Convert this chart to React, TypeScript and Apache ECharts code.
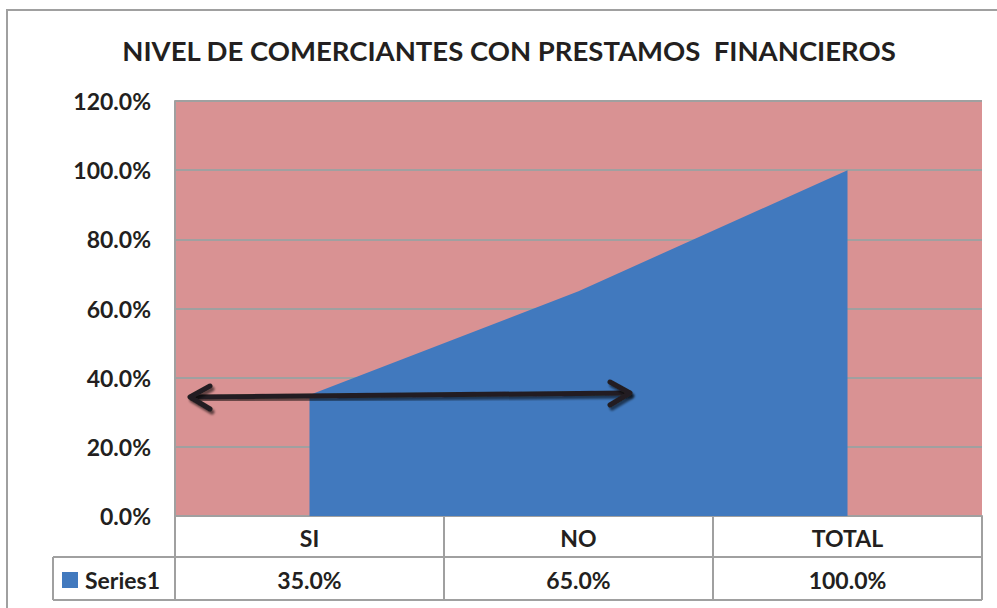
import React, { useEffect, useRef } from "react";
import * as echarts from "echarts";

const titleText = "NIVEL DE COMERCIANTES CON PRESTAMOS  FINANCIEROS";
const categories = ["SI", "NO", "TOTAL"];
const seriesName = "Series1";
const seriesValues = [0.35, 0.65, 1.0];
const yTicks = { min: 0, max: 1.2, interval: 0.2 };

const FONT = "Lato, 'Open Sans', sans-serif";
const PINK = "#D99293";
const BLUE = "#4179BE";
const GRID = "#A0A0A0";
const TEXT = "#231F20";
const FS = 23;

const pct = (v: number) => (v * 100).toFixed(1) + "%";

export default function App() {
  const ref = useRef<HTMLDivElement>(null);
  useEffect(() => {
    if (!ref.current) return;
    const chart = echarts.init(ref.current, undefined, { renderer: "svg" });
    const gl = 175, gr = 982, gt = 101, gb = 516;
    const arrowStyle = {
      stroke: TEXT,
      lineWidth: 5,
      fill: "none",
      lineCap: "round" as const,
      lineJoin: "round" as const,
      shadowBlur: 2,
      shadowOffsetX: 2,
      shadowOffsetY: 3,
      shadowColor: "rgba(0,0,0,0.55)",
    };
    chart.setOption({
      animation: false,
      backgroundColor: "#fff",
      textStyle: { fontFamily: FONT },
      grid: { left: gl, right: 997 - gr, top: gt, bottom: 608 - gb, backgroundColor: PINK, show: true, borderWidth: 0 },
      xAxis: [
        {
          type: "category",
          data: categories,
          boundaryGap: true,
          position: "bottom",
          axisLine: { show: true, lineStyle: { color: GRID, width: 2 } },
          axisTick: { show: true, alignWithLabel: false, interval: 0, length: 84, lineStyle: { color: GRID, width: 2 } },
          axisLabel: { color: TEXT, fontFamily: FONT, fontWeight: "bold", fontSize: FS, margin: 10 },
        },
        {
          type: "category",
          data: seriesValues.map(pct),
          boundaryGap: true,
          position: "bottom",
          offset: 41,
          axisLine: { show: false },
          axisTick: { show: false },
          axisLabel: { color: TEXT, fontFamily: FONT, fontWeight: "bold", fontSize: FS, margin: 11 },
        },
      ],
      yAxis: {
        type: "value",
        min: yTicks.min,
        max: yTicks.max,
        interval: yTicks.interval,
        axisLine: { show: true, lineStyle: { color: GRID, width: 2 } },
        axisTick: { show: false },
        splitLine: { show: true, lineStyle: { color: GRID, width: 2 } },
        axisLabel: { color: TEXT, fontFamily: FONT, fontWeight: "bold", fontSize: FS, margin: 24, formatter: (v: number) => pct(v) },
      },
      series: [
        {
          name: seriesName,
          type: "line",
          xAxisIndex: 0,
          data: seriesValues,
          symbol: "none",
          lineStyle: { width: 0 },
          areaStyle: { color: BLUE, opacity: 1 },
          z: 3,
        },
      ],
      graphic: [
        { type: "rect", shape: { x: 7, y: 10, width: 1020, height: 700 }, style: { fill: "none", stroke: GRID, lineWidth: 2 }, z: 100, silent: true },
        { type: "text", x: 509, y: 50, style: { text: titleText, fill: TEXT, font: `bold 27.5px ${FONT}`, textAlign: "center", textVerticalAlign: "middle" }, z: 100 },
        // table horizontal lines
        { type: "line", shape: { x1: 53, y1: 557, x2: gr, y2: 557 }, style: { stroke: GRID, lineWidth: 2 }, z: 100 },
        { type: "line", shape: { x1: 53, y1: 600, x2: gr, y2: 600 }, style: { stroke: GRID, lineWidth: 2 }, z: 100 },
        { type: "line", shape: { x1: 53, y1: 557, x2: 53, y2: 600 }, style: { stroke: GRID, lineWidth: 2 }, z: 100 },
        { type: "rect", shape: { x: 62, y: 572, width: 16, height: 16 }, style: { fill: BLUE }, z: 100 },
        { type: "text", x: 85, y: 580, style: { text: seriesName, fill: TEXT, font: `bold ${FS}px ${FONT}`, textAlign: "left", textVerticalAlign: "middle" }, z: 100 },
        // double-headed arrow
        { type: "line", shape: { x1: 191, y1: 397, x2: 629, y2: 393 }, style: arrowStyle, z: 100 },
        { type: "polyline", shape: { points: [[210, 386], [190, 397], [210, 409]] }, style: arrowStyle, z: 100 },
        { type: "polyline", shape: { points: [[610, 382], [630, 393], [610, 405]] }, style: arrowStyle, z: 100 },
      ],
    });
    return () => chart.dispose();
  }, []);
  return <div ref={ref} style={{ position: "absolute", left: 0, top: 0, width: 997, height: 608 }} />;
}
